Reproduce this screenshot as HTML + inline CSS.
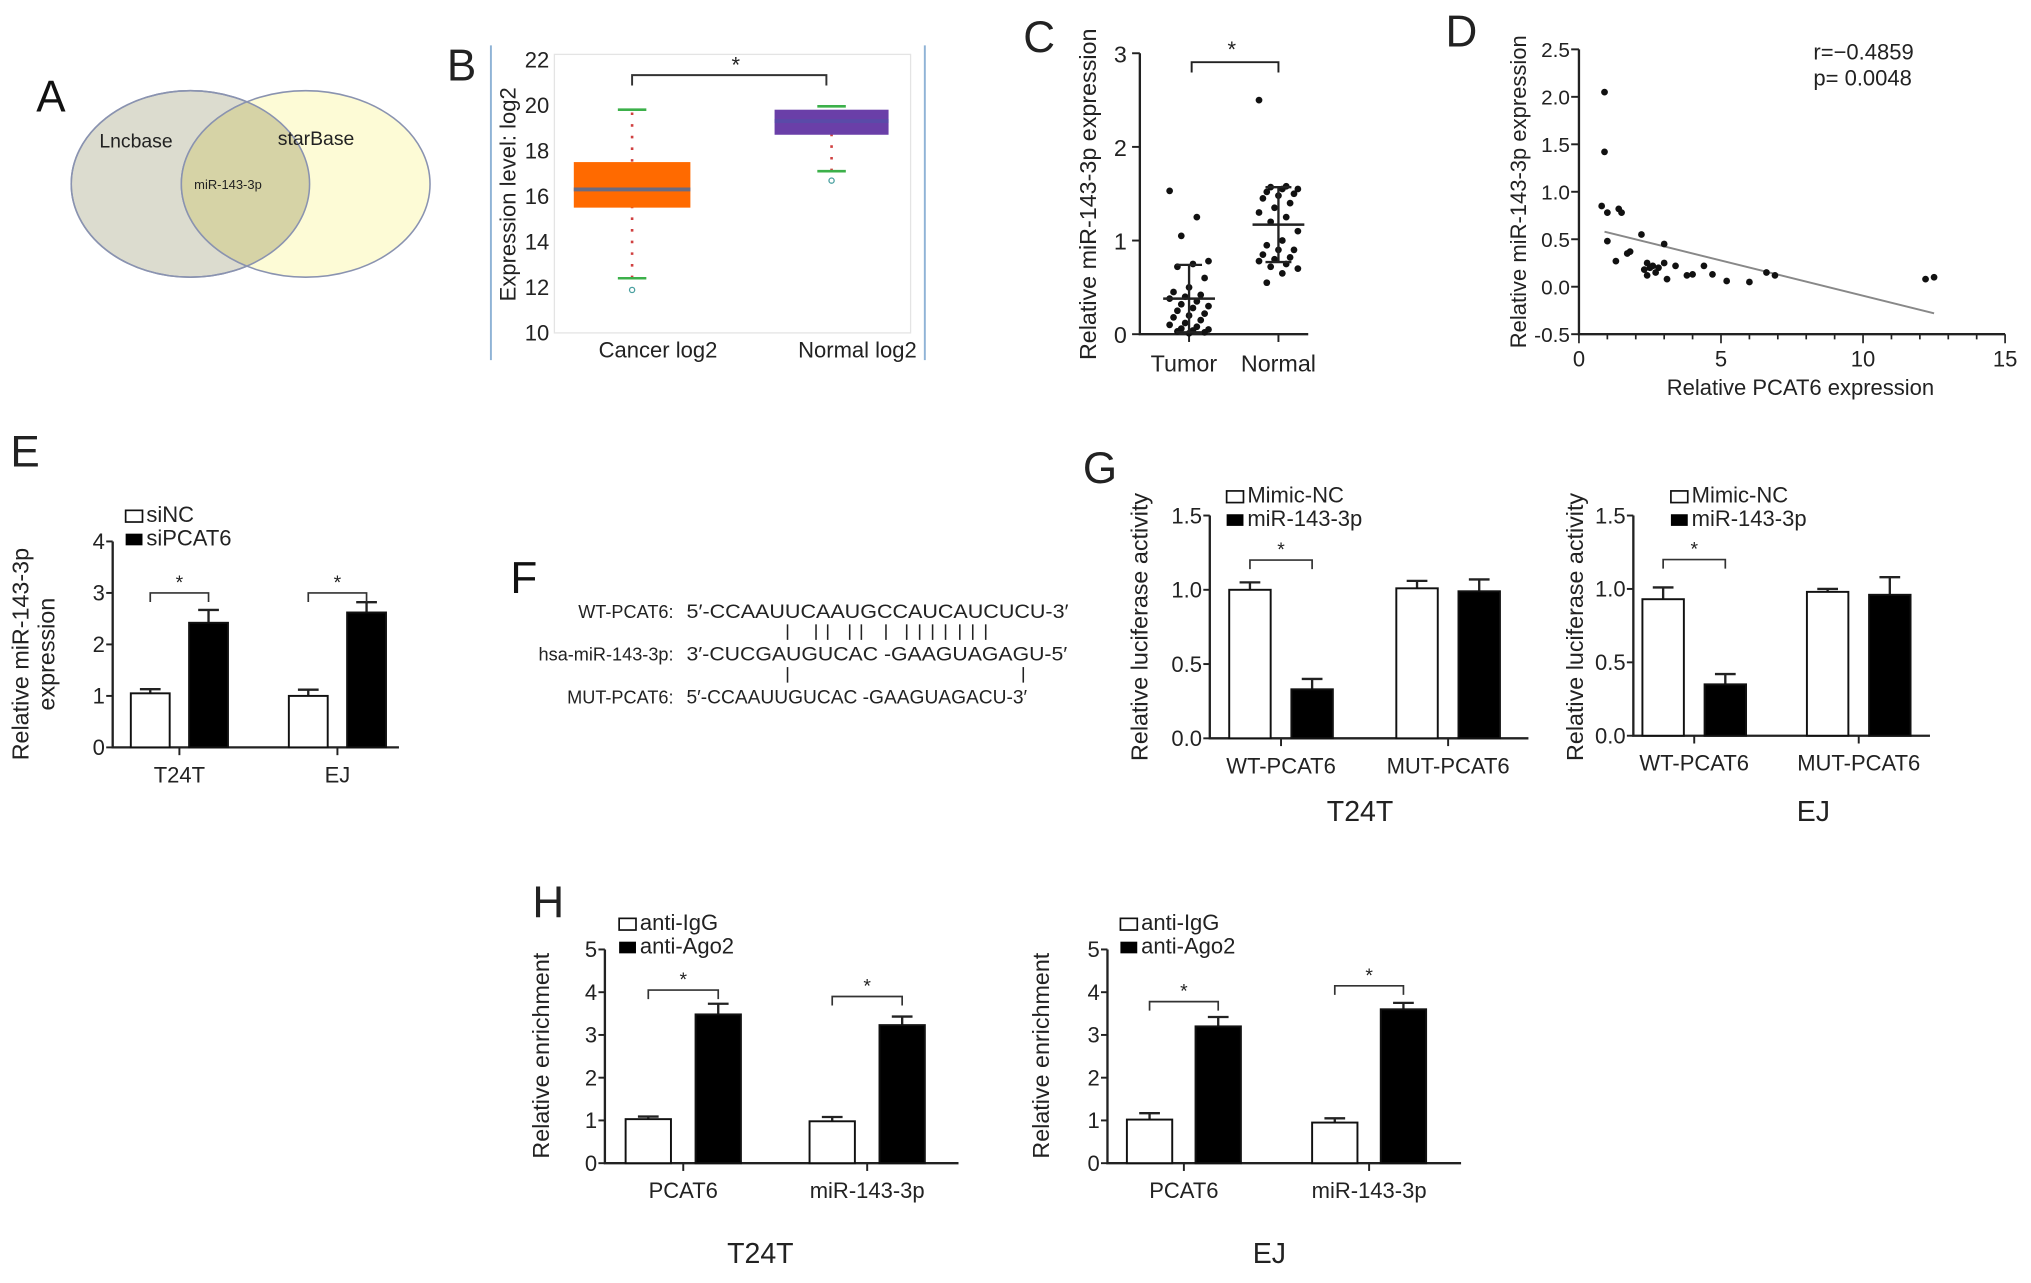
<!DOCTYPE html>
<html><head><meta charset="utf-8">
<style>
html,body{margin:0;padding:0;background:#fff;}
svg{display:block;}
text{font-family:"Liberation Sans",Arial,sans-serif;fill:#222;}
.lt{font-size:34px;fill:#111;}
</style></head>
<body>
<svg id="fig" width="2031" height="1283" viewBox="0 0 1568 990.5" xmlns="http://www.w3.org/2000/svg">
<g>
<text class="lt" x="28" y="86">A</text>
<ellipse cx="147" cy="142" rx="92" ry="72" fill="#dcdccf" stroke="#8a93b0" stroke-width="1.2"/>
<ellipse cx="236" cy="142" rx="96" ry="72" fill="#fdfbd6" stroke="#8a93b0" stroke-width="1.2"/>
<clipPath id="cl"><ellipse cx="147" cy="142" rx="92" ry="72"/></clipPath>
<ellipse cx="236" cy="142" rx="96" ry="72" fill="#d6d3a6" clip-path="url(#cl)" stroke="#8a93b0" stroke-width="1.2"/>
<ellipse cx="147" cy="142" rx="92" ry="72" fill="none" stroke="#8a93b0" stroke-width="1.2"/>
<text x="105" y="114" font-size="15" text-anchor="middle" fill="#444">Lncbase</text>
<text x="244" y="112" font-size="15" text-anchor="middle" fill="#444">starBase</text>
<text x="176" y="146" font-size="10" text-anchor="middle" fill="#444">miR-143-3p</text>
</g>
<g id="pB"></g>
<g id="pC"></g>
<g id="pD"></g>
<g id="pE"></g>
<g>
<text class="lt" x="394" y="458">F</text>
<text x="520" y="477" font-size="14" text-anchor="end">WT-PCAT6:</text>
<text x="530" y="477" font-size="15" textLength="295" lengthAdjust="spacingAndGlyphs">5′-CCAAUUCAAUGCCAUCAUCUCU-3′</text>
<text x="520" y="510" font-size="14" text-anchor="end">hsa-miR-143-3p:</text>
<text x="530" y="510" font-size="15" textLength="294" lengthAdjust="spacingAndGlyphs">3′-CUCGAUGUCAC -GAAGUAGAGU-5′</text>
<text x="520" y="543" font-size="14" text-anchor="end">MUT-PCAT6:</text>
<text x="530" y="543" font-size="15" textLength="263" lengthAdjust="spacingAndGlyphs">5′-CCAAUUGUCAC -GAAGUAGACU-3′</text>
<g id="pairs" stroke="#222" stroke-width="1.2"></g>
</g>
<g id="pG1"></g>
<g id="pG2"></g>
<g id="pH1"></g>
<g id="pH2"></g>
</svg>
<script>
const boxCats = ["Cancer log2","Normal log2"];
const boxQ1 = [15.5, 18.7];
const boxMed = [16.3, 19.3];
const boxQ3 = [17.5, 19.8];
const boxLo = [12.4, 17.1];
const boxHi = [19.8, 19.95];
const boxOut = [12.0, 16.8];
const boxTicks = [10,12,14,16,18,20,22];

const tumorVals = [1.53,1.25,1.05,0.78,0.75,0.72,0.6,0.5,0.45,0.42,0.4,0.38,0.35,0.32,0.3,0.28,0.25,0.22,0.2,0.18,0.15,0.12,0.1,0.08,0.06,0.05,0.04,0.03,0.02,0.01];
const normalVals = [2.5,1.58,1.57,1.55,1.55,1.52,1.5,1.48,1.45,1.4,1.35,1.3,1.25,1.2,1.1,1.0,0.95,0.9,0.9,0.85,0.82,0.8,0.78,0.75,0.72,0.7,0.65,0.55];
const cMeans = [0.38, 1.17];
const cSD = [0.36, 0.4];
const cTicks = [0,1,2,3];

const dX = [0.9,0.9,0.8,1.0,1.4,1.5,1.0,1.3,1.7,1.8,2.2,2.4,2.4,2.5,2.6,2.8,3.0,3.0,3.1,3.4,3.8,4.0,4.4,4.7,5.2,6.0,6.6,6.9,12.2,12.5,2.3,2.7];
const dY = [2.05,1.42,0.85,0.78,0.82,0.78,0.48,0.27,0.35,0.37,0.55,0.25,0.12,0.2,0.22,0.2,0.25,0.45,0.08,0.22,0.12,0.13,0.22,0.13,0.06,0.05,0.15,0.12,0.08,0.1,0.18,0.15];
const dFit = [[0.9,0.58],[12.5,-0.28]];
const dYTicks = [-0.5,0,0.5,1,1.5,2,2.5];
const dXTicks = [0,5,10,15];

const eCats = ["T24T","EJ"];
const eWhite = [1.05,1.0], eWhiteErr=[0.08,0.12];
const eBlack = [2.42,2.62], eBlackErr=[0.25,0.2];
const eTicks = [0,1,2,3,4];

const gCats = ["WT-PCAT6","MUT-PCAT6"];
const g1White=[1.0,1.01], g1WhiteErr=[0.05,0.05], g1Black=[0.33,0.99], g1BlackErr=[0.07,0.08];
const g2White=[0.93,0.98], g2WhiteErr=[0.08,0.02], g2Black=[0.35,0.96], g2BlackErr=[0.07,0.12];
const gTicks=[0,0.5,1.0,1.5];

const hCats=["PCAT6","miR-143-3p"];
const h1White=[1.03,0.98], h1WhiteErr=[0.06,0.1], h1Black=[3.48,3.23], h1BlackErr=[0.25,0.2];
const h2White=[1.02,0.95], h2WhiteErr=[0.15,0.1], h2Black=[3.2,3.6], h2BlackErr=[0.22,0.15];
const hTicks=[0,1,2,3,4,5];

const NS="http://www.w3.org/2000/svg";
function mk(parent, tag, attrs){const e=document.createElementNS(NS,tag);for(const k in attrs)e.setAttribute(k,attrs[k]);parent.appendChild(e);return e;}
function txt(parent,x,y,s,size,anchor,rot,fill){const t=mk(parent,'text',{x:x,y:y,'font-size':size,'text-anchor':anchor||'middle'});if(fill)t.setAttribute('fill',fill);if(rot)t.setAttribute('transform','rotate(-90 '+x+' '+y+')');t.textContent=s;return t;}

(function(){
 const g=document.getElementById('pB');
 const y=v=>257-(v-10)*(211/12);
 const cx=[488,642], hw=[45,44];
 let t=txt(g,345,62,'B',34,'start');t.setAttribute('fill','#111');
 
 
 let l=mk(g,'line',{x1:379,y1:35,x2:379,y2:278,stroke:'#8fb3d6','stroke-width':1.5});
 
 
 l=mk(g,'line',{x1:714,y1:35,x2:714,y2:278,stroke:'#8fb3d6','stroke-width':1.5});
 
 
 const fr=mk(g,'rect',{x:428,y:y(22)-4,width:275,height:y(10)-y(22)+4,fill:'none',stroke:'#e4e4e4'});
 
 
 boxTicks.forEach(v=>{const tt=txt(g,424,y(v)+6,String(v),17,'end');
  
  });
 const yt=txt(g,398,150,'Expression level: log2',17,'middle',true);
 
 
 const cols=['#ff6a00','#6a3fa8'];
 boxCats.forEach((c,i)=>{
  const w=mk(g,'line',{x1:cx[i],y1:y(boxLo[i]),x2:cx[i],y2:y(boxHi[i]),stroke:'#d04040','stroke-width':2,'stroke-dasharray':'2 7'});
  
  
  [boxLo[i],boxHi[i]].forEach(v=>{const cp=mk(g,'line',{x1:cx[i]-11,x2:cx[i]+11,y1:y(v),y2:y(v),stroke:'#3cb04a','stroke-width':2});
   
   });
  const r=mk(g,'rect',{x:cx[i]-hw[i],y:y(boxQ3[i]),width:2*hw[i],height:y(boxQ1[i])-y(boxQ3[i]),fill:cols[i]});
  
  
  const m=mk(g,'line',{x1:cx[i]-hw[i],x2:cx[i]+hw[i],y1:y(boxMed[i]),y2:y(boxMed[i]),stroke:i?'#5a4aa8':'#6b6b80','stroke-width':3});
  
  
  const o=mk(g,'circle',{cx:cx[i],cy:y(boxOut[i])+2,r:2,fill:'none',stroke:'#4aa0a0'});
  
  
  const xl=txt(g,cx[i]+20,276,c,17,'middle');
  
  
 });
 const b=mk(g,'path',{d:`M${cx[0]} 66 V58 H${cx[1]-4} V66`,fill:'none',stroke:'#333','stroke-width':1.5});
 
 
 const s=txt(g,568,56,'*',17);
 
 
})();

(function(){
 const g=document.getElementById('pC');
 const y=v=>258-v*72.3;
 const cx=[918,987];
 let t=txt(g,790,40,'C',34,'start');t.setAttribute('fill','#111');
 
 
 const ax=mk(g,'path',{d:'M880 '+y(3)+' V258 H1010',fill:'none',stroke:'#222','stroke-width':1.8});
 
 
 cTicks.forEach(v=>{mk(g,'line',{x1:874,x2:880,y1:y(v),y2:y(v),stroke:'#222','stroke-width':1.5});
  const tt=txt(g,870,y(v)+7,String(v),18,'end');
  
  });
 cx.forEach(x=>mk(g,'line',{x1:x,x2:x,y1:258,y2:264,stroke:'#222','stroke-width':1.5}));
 const yt=txt(g,846,150,'Relative miR-143-3p expression',18,'middle',true);
 
 
 let xl=txt(g,914,287,'Tumor',18);
 
 
 xl=txt(g,987,287,'Normal',18);
 
 
 [tumorVals,normalVals].forEach((arr,gi)=>{
  arr.forEach((v,i)=>{const off=((i*7)%11-5)*3.0;
   const p=mk(g,'circle',{cx:cx[gi]+off,cy:y(v),r:2.6,fill:'#111'});
   
   });
  const m=mk(g,'line',{x1:cx[gi]-20,x2:cx[gi]+20,y1:y(cMeans[gi]),y2:y(cMeans[gi]),stroke:'#222','stroke-width':2});
  
  
  const e=mk(g,'path',{d:`M${cx[gi]} ${y(cMeans[gi]-cSD[gi])} V${y(cMeans[gi]+cSD[gi])} M${cx[gi]-10} ${y(cMeans[gi]+cSD[gi])} h20 M${cx[gi]-10} ${y(cMeans[gi]-cSD[gi])} h20`,stroke:'#222','stroke-width':1.8,fill:'none'});
  
  
 });
 const b=mk(g,'path',{d:`M${cx[0]+2} 56 V48 H${cx[1]} V56`,fill:'none',stroke:'#222','stroke-width':1.5});
 
 
 const s=txt(g,951,44,'*',17);
 
 
})();

(function(){
 const g=document.getElementById('pD');
 const y=v=>(258-(v+0.5)*73.3), x=v=>1219+v*(329/15);
 let t=txt(g,1116,36,'D',34,'start');t.setAttribute('fill','#111');
 
 
 const ax=mk(g,'path',{d:`M1219 ${y(2.5)} V258 H1548`,fill:'none',stroke:'#222','stroke-width':1.8});
 
 
 dYTicks.forEach(v=>{mk(g,'line',{x1:1213,x2:1219,y1:y(v),y2:y(v),stroke:'#222','stroke-width':1.5});
  const tt=txt(g,1212,y(v)+6,v.toFixed(1),16,'end');
  
  });
 for(let v=0;v<=15;v++){mk(g,'line',{x1:x(v),x2:x(v),y1:258,y2:v%5?262:265,stroke:'#222','stroke-width':1.3});}
 dXTicks.forEach(v=>{const tt=txt(g,x(v),283,String(v),17);
  
  });
 let a=txt(g,1390,305,'Relative PCAT6 expression',17);
 
 
 a=txt(g,1178,148,'Relative miR-143-3p expression',17,'middle',true);
 
 
 const fl=mk(g,'line',{x1:x(dFit[0][0]),y1:y(dFit[0][1]),x2:x(dFit[1][0]),y2:y(dFit[1][1]),stroke:'#888','stroke-width':1.5});
 
 
 dX.forEach((v,i)=>{const p=mk(g,'circle',{cx:x(v),cy:y(dY[i]),r:2.6,fill:'#111'});
  
  });
 a=txt(g,1400,46,'r=−0.4859',17,'start');
 
 
 a=txt(g,1400,66,'p= 0.0048',17,'start');
 
 
})();

function bars(g,o){
 const y=v=>o.y0-(v/o.max)*(o.y0-o.yTop);
 const ax=mk(g,'path',{d:`M${o.ax} ${o.yTop} V${o.y0} H${o.xEnd}`,fill:'none',stroke:'#222','stroke-width':1.8});
 
 
 o.ticks.forEach(v=>{mk(g,'line',{x1:o.ax-5,x2:o.ax,y1:y(v),y2:y(v),stroke:'#222','stroke-width':1.5});
  const tt=txt(g,o.ax-6,y(v)+6,o.fmt?v.toFixed(1):String(v),17,'end');
  
  });
 o.cats.forEach((c,i)=>{
  const base=o.g0+i*o.gap;
  [[o.white,o.whiteErr,'#fff',0],[o.black,o.blackErr,'#000',o.bw+o.inner]].forEach(([vals,err,fill,dx],k)=>{
   const x0=base+dx;
   const e=mk(g,'path',{d:`M${x0+o.bw/2} ${y(vals[i])} V${y(vals[i]+err[i])} M${x0+o.bw/2-8} ${y(vals[i]+err[i])} h16`,stroke:'#222','stroke-width':1.8,fill:'none'});
   
   
   const r=mk(g,'rect',{x:x0,y:y(vals[i]),width:o.bw,height:o.y0-y(vals[i]),fill:fill,stroke:'#111','stroke-width':1.5});
   
   
  });
  const mid=base+o.bw+o.inner/2;
  mk(g,'line',{x1:mid,x2:mid,y1:o.y0,y2:o.y0+6,stroke:'#222','stroke-width':1.5});
  const xl=txt(g,mid,o.y0+27,c,17);
  
  
  if(o.brk[i]!=null){const by=y(o.brk[i]);const l=base+o.bw/2,r2=base+o.bw*1.5+o.inner;
   const b=mk(g,'path',{d:`M${l} ${by+7} V${by} H${r2} V${by+7}`,fill:'none',stroke:'#333','stroke-width':1.3});
   
   
   const s=txt(g,(l+r2)/2,by-3,'*',15,'middle',false,'#888');
   
   }
 });
 let lb=mk(g,'rect',{x:o.lx,y:o.ly-9,width:13,height:9,fill:'#fff',stroke:'#111','stroke-width':1.3});
 
 
 let lt=txt(g,o.lx+16,o.ly,o.leg[0],17,'start');
 
 
 lb=mk(g,'rect',{x:o.lx,y:o.ly+9,width:13,height:9,fill:'#000'});
 
 
 lt=txt(g,o.lx+16,o.ly+18,o.leg[1],17,'start');
 
 
 o.ytitle.forEach((s,k)=>{const a=txt(g,o.ytx+k*20,o.yty,s,18,'middle',true);
  
  });
 if(o.sub){const a=txt(g,o.subx,o.y0+(o.subdy||77),o.sub,22);
  
  }
}
function letter(id,x,y,s){const t=txt(document.getElementById(id),x,y,s,34,'start');t.setAttribute('fill','#111');
 
 }

letter('pE',8,360,'E');
bars(document.getElementById('pE'),{cats:eCats,white:eWhite,whiteErr:eWhiteErr,black:eBlack,blackErr:eBlackErr,ticks:eTicks,max:4,
 ax:87,yTop:418,y0:577,xEnd:308,g0:101,gap:122,bw:30,inner:15,brk:[3.0,3.0],lx:97,ly:403,leg:['siNC','siPCAT6'],
 ytitle:['Relative miR-143-3p','expression'],ytx:22,yty:505});

letter('pG1',836,373,'G');
bars(document.getElementById('pG1'),{cats:gCats,white:g1White,whiteErr:g1WhiteErr,black:g1Black,blackErr:g1BlackErr,ticks:gTicks,max:1.5,fmt:1,
 ax:934,yTop:398,y0:570,xEnd:1180,g0:949,gap:129,bw:32,inner:16,brk:[1.2,null],lx:947,ly:388,leg:['Mimic-NC','miR-143-3p'],
 ytitle:['Relative luciferase activity'],ytx:886,yty:484,sub:'T24T',subx:1050,subdy:64});

bars(document.getElementById('pG2'),{cats:gCats,white:g2White,whiteErr:g2WhiteErr,black:g2Black,blackErr:g2BlackErr,ticks:gTicks,max:1.5,fmt:1,
 ax:1261,yTop:398,y0:568,xEnd:1490,g0:1268,gap:127,bw:32,inner:16,brk:[1.2,null],lx:1290,ly:388,leg:['Mimic-NC','miR-143-3p'],
 ytitle:['Relative luciferase activity'],ytx:1222,yty:484,sub:'EJ',subx:1400,subdy:66});

letter('pH1',411,708,'H');
bars(document.getElementById('pH1'),{cats:hCats,white:h1White,whiteErr:h1WhiteErr,black:h1Black,blackErr:h1BlackErr,ticks:hTicks,max:5,
 ax:467,yTop:733,y0:898,xEnd:740,g0:483,gap:142,bw:35,inner:19,brk:[4.05,3.9],lx:478,ly:718,leg:['anti-IgG','anti-Ago2'],
 ytitle:['Relative enrichment'],ytx:424,yty:815,sub:'T24T',subx:587});

bars(document.getElementById('pH2'),{cats:hCats,white:h2White,whiteErr:h2WhiteErr,black:h2Black,blackErr:h2BlackErr,ticks:hTicks,max:5,
 ax:855,yTop:733,y0:898,xEnd:1128,g0:870,gap:143,bw:35,inner:18,brk:[3.78,4.15],lx:865,ly:718,leg:['anti-IgG','anti-Ago2'],
 ytitle:['Relative enrichment'],ytx:810,yty:815,sub:'EJ',subx:980});

(function(){
 const g=document.getElementById('pairs');
 const top=[608,630,639,656,665,684,700,710,720,730,741,751,761];
 top.forEach(x=>mk(g,'line',{x1:x,x2:x,y1:482,y2:494}));
 [608,790].forEach(x=>mk(g,'line',{x1:x,x2:x,y1:515,y2:527}));
})();
</script>
</body></html>
